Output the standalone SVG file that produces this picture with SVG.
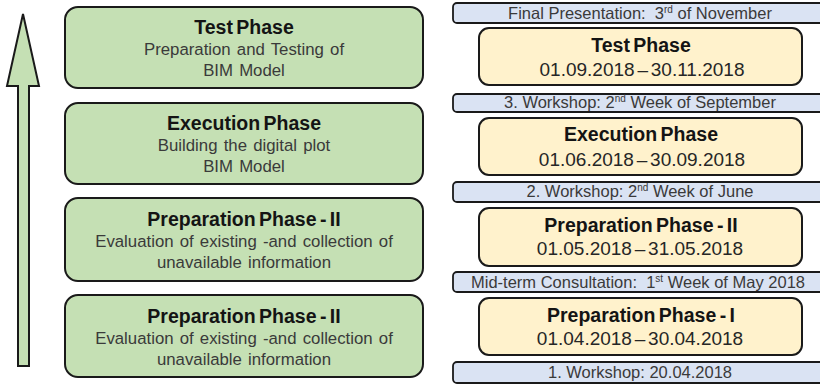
<svg xmlns="http://www.w3.org/2000/svg" width="820" height="384" viewBox="0 0 820 384">
<style>
  .g { fill: #c5e0b4; stroke: #1a1a1a; stroke-width: 2; }
  .y { fill: #fff2cc; stroke: #1a1a1a; stroke-width: 2; }
  .b { fill: #dae3f3; stroke: #1a1a1a; stroke-width: 1.8; }
  text { font-family: "Liberation Sans", Arial, sans-serif; text-anchor: middle; }
  .t { font-size: 19.5px; font-weight: bold; fill: #141414; word-spacing: -2px; }
  .s { font-size: 16.8px; fill: #3a3a3a; word-spacing: 1.5px; }
  .d { font-size: 19px; fill: #262626; word-spacing: -2.5px; }
  .m { font-size: 16.5px; fill: #3a3a3a; }
  .sup { font-size: 10px; }
</style>
<rect width="820" height="384" fill="#ffffff"/>

<g id="arrow">
  <polygon class="g" points="23,14 39,86 29,86 29,366 18,366 18,86 7,86"/>
</g>

<g id="green-test">
  <rect class="g" x="65" y="7" width="358" height="81" rx="13"/>
  <text class="t" x="244" y="34">Test Phase</text>
  <text class="s" x="244" y="55">Preparation and Testing of</text>
  <text class="s" x="244" y="76">BIM Model</text>
</g>
<g id="green-execution">
  <rect class="g" x="65" y="103" width="358" height="81" rx="13"/>
  <text class="t" x="244" y="130">Execution Phase</text>
  <text class="s" x="244" y="151">Building the digital plot</text>
  <text class="s" x="244" y="172">BIM Model</text>
</g>
<g id="green-prep2">
  <rect class="g" x="65" y="198" width="358" height="83" rx="13"/>
  <text class="t" x="244" y="226">Preparation Phase - II</text>
  <text class="s" x="244" y="247">Evaluation of existing -and collection of</text>
  <text class="s" x="244" y="268">unavailable information</text>
</g>
<g id="green-prep1">
  <rect class="g" x="65" y="295" width="358" height="82" rx="13"/>
  <text class="t" x="244" y="323">Preparation Phase - II</text>
  <text class="s" x="244" y="344">Evaluation of existing -and collection of</text>
  <text class="s" x="244" y="365">unavailable information</text>
</g>

<g id="milestone-final">
  <rect class="b" x="453" y="3" width="376" height="20" rx="4"/>
  <text class="m" x="640" y="19">Final Presentation:&#160; 3<tspan class="sup" dy="-6">rd</tspan><tspan dy="6"> of November</tspan></text>
</g>
<g id="yellow-test">
  <rect class="y" x="479" y="28" width="323" height="57" rx="10"/>
  <text class="t" x="641" y="52">Test Phase</text>
  <text class="d" x="642" y="76">01.09.2018 – 30.11.2018</text>
</g>
<g id="milestone-ws3">
  <rect class="b" x="453" y="94" width="376" height="18" rx="4"/>
  <text class="m" x="640" y="108">3. Workshop: 2<tspan class="sup" dy="-6">nd</tspan><tspan dy="6"> Week of September</tspan></text>
</g>
<g id="yellow-execution">
  <rect class="y" x="479" y="118" width="323" height="57" rx="10"/>
  <text class="t" x="641" y="141">Execution Phase</text>
  <text class="d" x="642" y="166">01.06.2018 – 30.09.2018</text>
</g>
<g id="milestone-ws2">
  <rect class="b" x="453" y="182" width="376" height="20" rx="4"/>
  <text class="m" x="640" y="197">2. Workshop: 2<tspan class="sup" dy="-6">nd</tspan><tspan dy="6"> Week of June</tspan></text>
</g>
<g id="yellow-prep2">
  <rect class="y" x="479" y="208" width="323" height="58" rx="10"/>
  <text class="t" x="641" y="232">Preparation Phase - II</text>
  <text class="d" x="640" y="255">01.05.2018 – 31.05.2018</text>
</g>
<g id="milestone-midterm">
  <rect class="b" x="453" y="272" width="376" height="20" rx="4"/>
  <text class="m" x="638" y="288">Mid-term Consultation:&#160; 1<tspan class="sup" dy="-6">st</tspan><tspan dy="6"> Week of May 2018</tspan></text>
</g>
<g id="yellow-prep1">
  <rect class="y" x="479" y="298" width="323" height="57" rx="10"/>
  <text class="t" x="641" y="322">Preparation Phase - I</text>
  <text class="d" x="640" y="345">01.04.2018 – 30.04.2018</text>
</g>
<g id="milestone-ws1">
  <rect class="b" x="453" y="362" width="376" height="21" rx="4"/>
  <text class="m" x="640" y="378">1. Workshop: 20.04.2018</text>
</g>
</svg>
